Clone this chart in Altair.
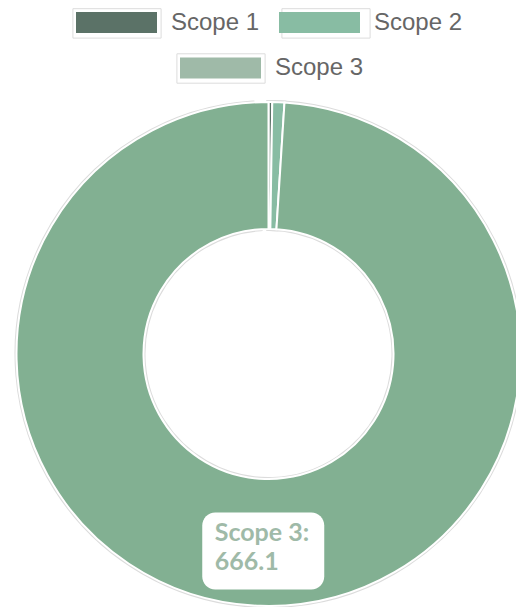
import altair as alt
import pandas as pd

# ---- data ----
scopes = ["Scope 1", "Scope 2", "Scope 3"]
values = [1.6, 5.2, 666.1]
slice_colors = ["#5b7267", "#88bca3", "#82b092"]
label_scope = "Scope 3"
label_color = "#9fbaa8"
frame_color = "#dcdcdc"

df = pd.DataFrame({"scope": scopes, "value": values})

# ---- layout constants (pixels) ----
CX, CY = 260.5, 346
R_IN, R_OUT = 125, 252
LABEL_R = 197
BOX_W, BOX_H = 122, 77
DX, DY = 1, 0

# legend symbols: wide rectangles drawn from a small layout square
SYM = 900
rect_path = "M-2.7,-0.7H2.7V0.7H-2.7Z"
frame_path = "M-2.94,-0.98H2.94V0.98H-2.94Z"

L1X, L1Y = 93.5, -0.5
L2X, L2Y = 197.5, 45

legend_common = dict(
    orient="none",
    direction="horizontal",
    title=None,
    symbolSize=SYM,
    symbolOpacity=1,
    labelFont="Liberation Sans",
    labelFontSize=24,
    labelColor="#666666",
    labelOffset=39.5,
)
colored = dict(symbolType=rect_path, symbolStrokeWidth=0, columnPadding=19, **legend_common)
framed = dict(symbolType=frame_path, symbolStrokeWidth=1, symbolFillColor="transparent",
              labelExpr="''", columnPadding=107, **legend_common)

base = alt.Chart(df)

halo = base.mark_arc(
    innerRadius=R_IN, outerRadius=R_OUT,
    fill="transparent", strokeWidth=4,
).encode(
    theta=alt.Theta("value:Q", stack=True),
    stroke=alt.Stroke(
        "scope:N",
        scale=alt.Scale(domain=["Scope 1", "Scope 2"], range=[frame_color, frame_color]),
        legend=alt.Legend(values=["Scope 1", "Scope 2"], legendX=L1X, legendY=L1Y, **framed),
    ),
    x=alt.value(CX), y=alt.value(CY),
)

halo3 = base.transform_filter(alt.datum.scope == label_scope).mark_arc(
    innerRadius=R_IN, outerRadius=R_OUT,
    fill="transparent", strokeWidth=4,
).encode(
    theta=alt.Theta("value:Q", stack=True),
    stroke=alt.Stroke(
        "scope:N",
        scale=alt.Scale(domain=[label_scope], range=[frame_color]),
        legend=alt.Legend(legendX=L2X, legendY=L2Y, **framed),
    ),
    x=alt.value(CX), y=alt.value(CY),
)

arcs = base.mark_arc(
    innerRadius=R_IN, outerRadius=R_OUT,
    stroke="white", strokeWidth=2,
).encode(
    theta=alt.Theta("value:Q", stack=True),
    color=alt.Color(
        "scope:N",
        scale=alt.Scale(domain=scopes, range=slice_colors),
        legend=alt.Legend(values=["Scope 1", "Scope 2"], legendX=L1X, legendY=L1Y, **colored),
    ),
    x=alt.value(CX), y=alt.value(CY),
)

pos = base.transform_joinaggregate(
    total="sum(value)"
).transform_window(
    cum="sum(value)", sort=[alt.SortField("scope")], frame=[None, 0]
).transform_calculate(
    mid="(datum.cum - datum.value/2) / datum.total * 2 * PI",
).transform_calculate(
    bx=f"{CX + DX} + {LABEL_R} * sin(datum.mid)",
    by=f"{CY + DY} - {LABEL_R} * cos(datum.mid)",
).transform_calculate(
    x1=f"datum.bx - {BOX_W/2}", x2=f"datum.bx + {BOX_W/2}",
    y1=f"datum.by - {BOX_H/2}", y2=f"datum.by + {BOX_H/2}",
    tx="datum.bx - 48.5", ty="datum.by - 10",
    label="datum.scope + ':\\n' + format(datum.value, '.1f')",
).transform_filter(
    alt.datum.scope == label_scope
)

box = pos.mark_rect(fill="white", cornerRadius=13).encode(
    x=alt.X("x1:Q", scale=None), x2="x2:Q",
    y=alt.Y("y1:Q", scale=None), y2="y2:Q",
)

text = pos.mark_text(
    align="left", baseline="alphabetic", lineBreak="\n",
    font="Lato", fontWeight="bold", fontSize=25, lineHeight=29,
).encode(
    x=alt.X("tx:Q", scale=None),
    y=alt.Y("ty:Q", scale=None),
    text="label:N",
    color=alt.Color(
        "scope:N",
        scale=alt.Scale(domain=[label_scope], range=[label_color]),
        legend=alt.Legend(legendX=L2X, legendY=L2Y, **colored),
    ),
)

chart = alt.layer(halo, halo3, arcs, box, text).resolve_scale(
    color="independent", stroke="independent"
).properties(
    width=508, height=599,
    autosize=alt.AutoSizeParams(type="none"),
    padding=0,
).configure_view(strokeWidth=0)

chart.save("out.html", embed_options={"renderer": "svg", "actions": False})
